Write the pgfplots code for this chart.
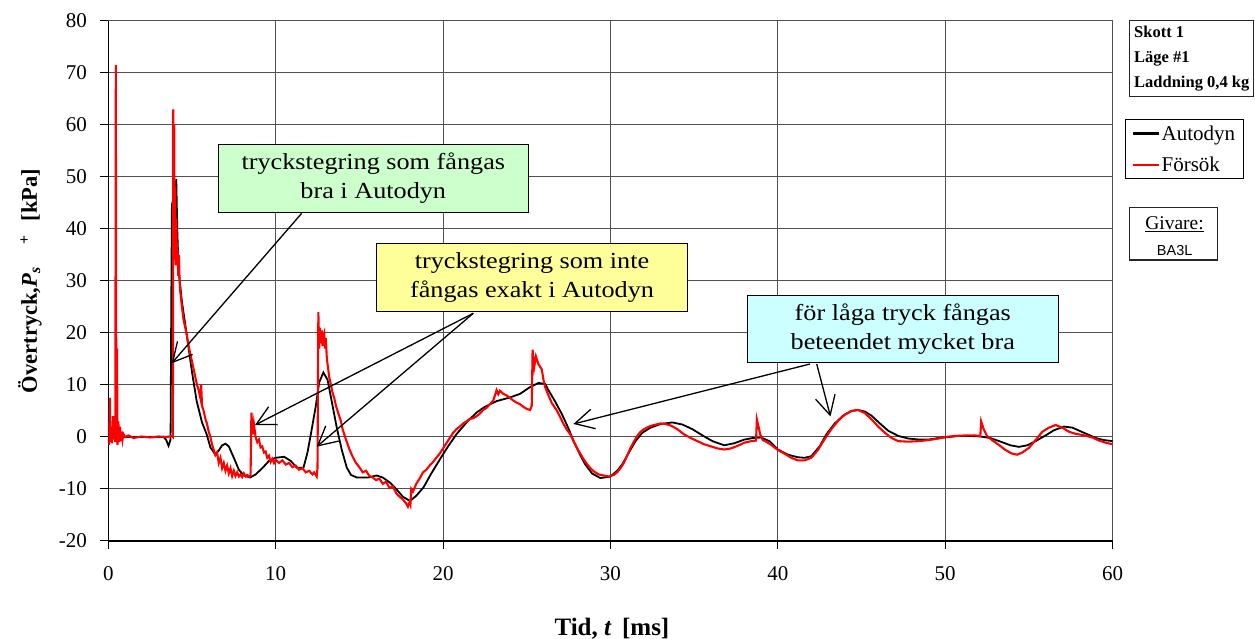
\documentclass[border=0pt]{standalone}
\usepackage{pgfplots}
\pgfplotsset{compat=1.18}
\usepackage{pgfplotstable}
\usepackage{fontspec}
\setmainfont{Liberation Serif}
\newfontfamily\arialfont{Liberation Sans}
\usetikzlibrary{arrows.meta}
\definecolor{boxgreen}{HTML}{CCFFCC}
\definecolor{boxyellow}{HTML}{FFFF99}
\definecolor{boxcyan}{HTML}{CCFFFF}
\definecolor{gridgray}{HTML}{505050}

\pgfplotstableread{
t P
0 0
3.3 0
3.45 -0.5
3.6 -1.7
3.72 -0.5
3.76 24
3.8 44
3.95 42
4.0 46
4.06 49.6
4.12 40
4.2 32
4.4 26
4.68 19.8
5.0 12.5
5.28 6.9
5.6 2.8
5.88 0.5
6.1 -2
6.38 -3.3
6.6 -2.6
6.8 -1.6
7.0 -1.3
7.2 -1.8
7.5 -4
7.8 -6.3
8.1 -7.4
8.47 -7.8
8.8 -7.2
9.2 -6
9.6 -4.6
10.0 -4.0
10.5 -3.8
10.9 -4.6
11.26 -5.9
11.66 -5.9
11.9 -3
12.1 0.5
12.4 6
12.6 10.5
12.85 12.4
13.1 11
13.4 6
13.65 1.8
13.95 -2.5
14.25 -5.9
14.5 -7.3
14.85 -7.8
15.5 -7.8
16.04 -7.4
16.4 -7.8
16.84 -8.8
17.2 -10
17.6 -11.5
18.03 -12.3
18.4 -11.3
18.83 -9.7
19.3 -7
19.83 -4.2
20.3 -1.8
20.82 0.6
21.4 2.8
22.0 4.7
22.5 5.8
23.2 6.9
24.0 7.6
24.6 8.3
25.2 9.6
25.7 10.4
26.1 10.2
26.3 9.0
26.7 6.8
27.1 4.4
27.5 1.6
27.8 -0.8
28.2 -3.5
28.5 -5.3
28.9 -7
29.4 -7.9
30.0 -7.6
30.4 -6.5
30.7 -5.3
31.1 -3
31.5 -0.8
31.9 0.8
32.4 1.8
33.0 2.5
33.7 2.8
34.3 2.4
34.9 1.5
35.5 0.3
36.1 -0.8
36.8 -1.6
37.4 -1.2
38.0 -0.5
38.5 -0.2
39.0 -0.1
39.5 -0.8
40.0 -2.4
40.6 -3.4
41.2 -3.9
41.6 -4.0
42.0 -3.7
42.5 -1.8
42.9 0.5
43.4 2.6
43.9 4.1
44.4 5.0
44.8 5.2
45.2 4.9
45.6 4.1
46.1 2.6
46.6 1.2
47.2 0.2
47.8 -0.3
48.5 -0.5
49.0 -0.5
49.6 -0.2
50.2 0.0
50.8 0.2
51.5 0.2
52.1 0.1
52.7 -0.2
53.4 -1.0
53.9 -1.6
54.4 -1.9
54.9 -1.6
55.4 -0.8
56.0 0.3
56.5 1.3
57.1 2.0
57.6 1.8
58.3 0.8
59.0 -0.2
59.5 -0.6
60.0 -0.8
}\autodyn

\pgfplotstableread{
t P
0 0
0.05 -1.5
0.1 7.5
0.12 -1
0.18 2
0.22 -1.2
0.28 4
0.32 -0.5
0.38 1.5
0.42 -1
0.45 71.5
0.48 0
0.52 17
0.55 -1.5
0.6 3
0.65 -1
0.7 2
0.75 -0.8
0.8 1
0.85 -0.5
0.9 0.6
1.0 0
1.2 0.3
1.5 -0.2
2.0 0.1
2.5 -0.1
3.0 0.1
3.5 0
3.8 0.2
3.86 0
3.88 63
3.91 40
3.94 60
3.97 34
4.0 48
4.03 33
4.06 42
4.1 35
4.14 36
4.18 31
4.22 35
4.26 30
4.3 28
4.4 25
4.5 22.5
4.6 21
4.7 19.5
4.8 17.5
4.9 16
5.0 14.5
5.1 13
5.2 11.5
5.3 10
5.4 9
5.5 7.5
5.55 10
5.6 6
5.7 5
5.8 3.5
5.9 2.5
6.0 1
6.1 0
6.2 -1.5
6.3 -2.5
6.4 -3.5
6.5 -3
6.6 -5
6.7 -4
6.8 -6
6.9 -5
7.0 -6.5
7.1 -5.5
7.2 -7
7.3 -6
7.4 -7.5
7.5 -6.5
7.6 -7.5
7.7 -6.8
7.8 -7.6
7.9 -7.2
8.0 -7.7
8.1 -7
8.2 -7.6
8.3 -7.3
8.4 -7.6
8.5 -7.4
8.55 4.7
8.6 2
8.65 0.5
8.7 2.5
8.8 0
8.9 -1
9.0 -0.5
9.1 -2
9.2 -1.8
9.3 -3
9.4 -2.8
9.5 -4
9.6 -3.6
9.7 -4.8
9.8 -4.2
9.9 -5
10.0 -4.4
10.2 -5
10.4 -4.5
10.6 -5.3
10.8 -5
11.0 -5.8
11.2 -5.5
11.4 -6.3
11.6 -6
11.8 -6.8
12.0 -6.5
12.2 -7.2
12.3 -6.8
12.45 -7.6
12.5 -6
12.55 24
12.6 17
12.65 21
12.7 18
12.75 20.5
12.8 17.5
12.85 19.5
12.9 20
12.95 17
13.0 19
13.05 15.5
13.1 14
13.2 11.5
13.3 10
13.4 8.5
13.5 7.5
13.6 6
13.7 5
13.8 4
13.9 3
14.0 1.5
14.2 -0.5
14.4 -2.3
14.6 -3.8
14.8 -5
15.0 -5.8
15.2 -6.8
15.4 -6.5
15.6 -7.5
15.8 -7.8
16.0 -8.3
16.2 -8
16.4 -9
16.6 -8.6
16.8 -9.8
17.0 -9.5
17.2 -10.8
17.4 -11.5
17.6 -12
17.8 -12.8
17.9 -13.4
18.0 -12.5
18.05 -13
18.1 -10
18.2 -10.5
18.4 -9
18.6 -8
18.8 -6.8
19.0 -6.3
19.2 -5.5
19.4 -4.8
19.6 -4
19.8 -3.2
20.0 -2.2
20.2 -1.2
20.4 -0.2
20.6 0.8
20.8 1.5
21.0 2
21.2 2.6
21.4 3
21.6 3.5
21.8 3.6
22.0 4.0
22.2 4.5
22.4 5.2
22.6 5.6
22.8 6.3
23.0 7
23.2 9
23.3 8.2
23.4 8.9
23.6 8.3
23.8 8
24.0 7.5
24.2 7
24.4 6.6
24.6 6.3
24.8 5.8
25.0 5.4
25.2 5.2
25.3 6
25.35 16.8
25.45 13.5
25.55 15.5
25.7 14
25.9 13
26.0 11
26.1 9.6
26.3 8
26.5 6.5
26.8 5.1
27.0 3.8
27.2 2.5
27.4 1.4
27.6 0.5
27.8 -0.8
28.0 -2.1
28.2 -3.2
28.4 -4.3
28.6 -5.2
28.8 -6
29.0 -6.6
29.3 -7.2
29.6 -7.4
29.9 -7.6
30.2 -7.3
30.4 -6.8
30.6 -6
30.8 -5
31.0 -3.6
31.2 -2.1
31.4 -0.9
31.6 0.2
31.8 1
32.0 1.5
32.3 2
32.6 2.3
33.0 2.6
33.3 2.5
33.6 2.2
34.0 1.5
34.4 0.5
34.8 -0.2
35.2 -0.8
35.6 -1.4
36.0 -1.8
36.4 -2.2
36.8 -2.4
37.2 -2.2
37.6 -1.7
38.0 -1.1
38.4 -0.8
38.7 -0.7
38.75 3.4
38.85 2
38.95 0.5
39.1 -0.6
39.3 -0.9
39.6 -1.5
40.0 -2.5
40.4 -3.2
40.8 -4
41.2 -4.5
41.6 -4.5
42.0 -4
42.4 -2.5
42.8 -0.4
43.2 1.5
43.6 3.1
44.0 4.3
44.4 5
44.8 5.2
45.2 4.6
45.6 3.4
46.0 2
46.4 0.8
46.8 -0.2
47.2 -0.8
47.8 -0.9
48.4 -0.8
49.0 -0.6
49.6 -0.3
50.0 0
50.6 0.2
51.2 0.3
51.8 0.3
52.1 0.2
52.15 3.0
52.3 1.5
52.5 0.2
52.8 -0.6
53.2 -1.5
53.6 -2.5
54.0 -3.2
54.3 -3.4
54.6 -3.0
55.0 -2.1
55.4 -0.6
55.8 1.0
56.2 1.8
56.6 2.3
57.0 1.8
57.4 1.0
57.8 0.6
58.2 0.4
58.8 -0.1
59.2 -0.7
59.6 -1.1
60.0 -1.4
}\forsok

\begin{document}
\begin{tikzpicture}
\useasboundingbox (0,0) rectangle (1255pt,639pt);
\begin{axis}[
  at={(108.3pt,98pt)}, anchor=south west,
  scale only axis, width=1004.3pt, height=520pt,
  xmin=0, xmax=60, ymin=-20, ymax=80,
  xtick={0,10,...,60}, ytick={-20,-10,...,80},
  axis x line*=bottom, axis y line*=left,
  axis line style={-, black, line width=1.1pt},
  grid=major,
  major grid style={draw=gridgray, line width=1pt},
  tick align=outside, major tick length=8pt,
  tick style={black, line width=1pt},
  /pgf/number format/assume math mode=true,
  ticklabel style={font=\fontsize{21}{21}\selectfont},
  yticklabel style={xshift=-10pt},
  xticklabel style={yshift=-14pt},
  xlabel={\bfseries Tid, \textit{t}\, [ms]},
  xlabel style={font=\fontsize{25}{25}\selectfont, at={(axis description cs:0.5015,-0.1808)}, anchor=base},
  ylabel={\bfseries Övertryck,\textit{P}\textsubscript{\textit{s}}\hspace{22pt}\textsuperscript{+}\hspace{14pt}[kPa]},
  ylabel style={font=\fontsize{22.5}{22.5}\selectfont, at={(axis description cs:-0.071,0.5)}, anchor=base, rotate=0},
  legend style={at={(1.0123,0.8115)}, anchor=north west, draw=black, line width=1.1pt,
     font=\fontsize{21}{21}\selectfont, inner xsep=6pt, inner ysep=4pt, row sep=11pt,
     nodes={inner sep=2pt}},
  legend cell align=left,
  legend image code/.code={\draw[#1, line width=2.2pt, draw opacity=1] (0pt,0pt) -- (26pt,0pt);},
  clip=true,
]
\addplot[black, line width=1.8pt] table[x=t, y=P] {\autodyn};
\addlegendentry{Autodyn}
\addplot[red, line width=2.1pt] table[x=t, y=P] {\forsok};
\addlegendentry{Försök}
\end{axis}

\begin{scope}[x=1pt, y=-1pt, shift={(0pt,639pt)}]
  % annotation arrows
  \begin{scope}[line width=1.3pt, -{Straight Barb[length=19pt,width=20pt,line width=1.3pt]}]
    \draw (301.7,213.3) -- (171.7,363.3);
    \draw (473.3,313.3) -- (255,425);
    \draw (473.3,313.3) -- (316.7,446.7);
    \draw (810,364) -- (573.4,424);
    \draw (816.7,364) -- (830.5,416.5);
  \end{scope}
  % annotation boxes
  \node[draw=black, line width=1.3pt, fill=boxgreen, minimum width=310pt, minimum height=68pt, inner sep=0pt]
     at (373.3,178.3) {\scalebox{1.14}[1]{\fontsize{23}{30}\selectfont\begin{tabular}{@{}c@{}}tryckstegring som fångas\\[-1pt]bra i Autodyn\end{tabular}}};
  \node[draw=black, line width=1.3pt, fill=boxyellow, minimum width=310.6pt, minimum height=68.4pt, inner sep=0pt]
     at (532,277.5) {\scalebox{1.14}[1]{\fontsize{23}{30}\selectfont\begin{tabular}{@{}c@{}}tryckstegring som inte\\[-1pt]fångas exakt i Autodyn\end{tabular}}};
  \node[draw=black, line width=1.3pt, fill=boxcyan, minimum width=311pt, minimum height=67pt, inner sep=0pt]
     at (902.8,329.2) {\scalebox{1.14}[1]{\fontsize{23}{30}\selectfont\begin{tabular}{@{}c@{}}för låga tryck fångas\\[-1pt]beteendet mycket bra\end{tabular}}};
  % info box
  \draw[line width=1.2pt, black!85] (1129.3,20.7) rectangle (1253.3,96.7);
  \node[anchor=base west, inner sep=0pt, font=\fontsize{16.5}{16.5}\selectfont\bfseries] at (1134,37.5) {Skott 1};
  \node[anchor=base west, inner sep=0pt, font=\fontsize{16.5}{16.5}\selectfont\bfseries] at (1134,63) {Läge \#1};
  \node[anchor=base west, inner sep=0pt, font=\fontsize{16.5}{16.5}\selectfont\bfseries] at (1134,87.5) {Laddning 0,4 kg};
  % givare box
  \draw[line width=1.2pt, black!85] (1129.3,207.3) rectangle (1217.7,260);
  \node[anchor=base, inner sep=0pt, font=\fontsize{19.5}{19.5}\selectfont] at (1174.5,230) {\underline{Givare:}};
  \node[anchor=base, inner sep=0pt, font=\fontsize{14.5}{14.5}\selectfont\arialfont] at (1174.7,255.5) {BA3L};
\end{scope}
\end{tikzpicture}
\end{document}
